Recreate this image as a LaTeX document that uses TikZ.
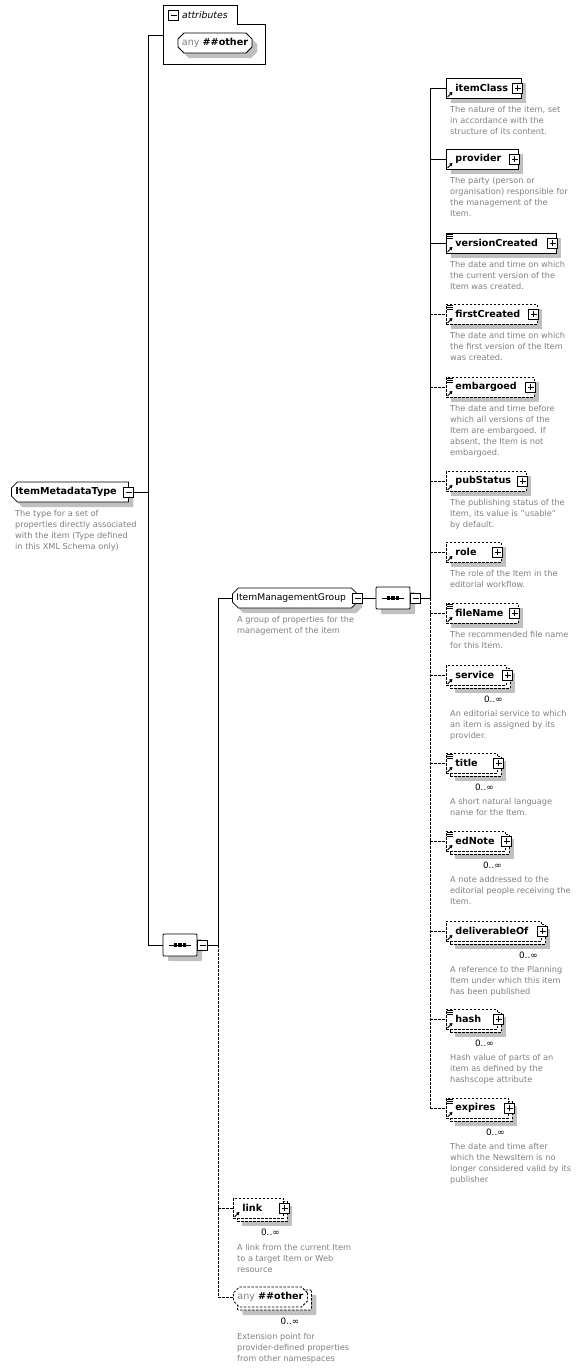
\documentclass[tikz,border=0pt]{standalone}
\usepackage{fontspec}
\setmainfont{DejaVu Sans}
\usetikzlibrary{positioning,calc,shapes.misc,shadows,arrows.meta}

\definecolor{shadowgray}{RGB}{192,192,192}
\definecolor{docgray}{RGB}{128,128,128}
\definecolor{anygray}{RGB}{128,128,128}

\newcommand{\lblfont}{\fontsize{9.6}{12}\selectfont\bfseries}
\newcommand{\grpfont}{\fontsize{9.2}{11}\selectfont}
\newcommand{\docfont}{\fontsize{8.2}{11}\selectfont}
\newcommand{\multfont}{\fontsize{8.8}{10}\selectfont}
\newcommand{\anyfont}{\fontsize{9.6}{12}\selectfont}

% small marks drawn on the boxes
\newcommand{\docicon}[1]{%
  \foreach \k in {1.5,3.5,5.5}
    \draw[line width=0.6pt] ($(#1.north west)+(1,\k)$) -- ++(6,0);}
\newcommand{\refarrow}[1]{%
  \draw[line width=0.9pt, -{Triangle[length=3pt,width=3.5pt]}]
    ($(#1.south west)+(1.5,-1.5)$) -- ++(5,-5);}
\newcommand{\seqmark}[1]{%
  \draw[line width=0.9pt] ([xshift=-11pt]#1.center) -- ([xshift=11pt]#1.center);
  \foreach \d in {-4.5,0,4.5}
    \fill ([xshift=\d pt]#1.center) +(-1.8,-1.8) rectangle +(1.8,1.8);}

\tikzset{
  conn/.style={line width=0.8pt},
  optconn/.style={conn, dash pattern=on 2.5pt off 1.5pt},
  boxshadow/.style={drop shadow={shadow xshift=5pt, shadow yshift=-5pt, fill=shadowgray, opacity=1}},
  elembase/.style={draw, fill=white, line width=0.8pt, anchor=west, minimum height=20pt,
    inner xsep=9pt, inner ysep=0pt, align=left, font=\lblfont},
  elembox/.style={elembase, boxshadow},
  optbase/.style={elembase, dash pattern=on 2.5pt off 1.5pt},
  optbox/.style={optbase, boxshadow},
  minusbox/.style={draw, fill=white, line width=0.8pt, minimum size=10pt, inner sep=0pt,
    path picture={\draw[line width=0.8pt]
      ([xshift=2pt]path picture bounding box.west) -- ([xshift=-2pt]path picture bounding box.east);}},
  plusbox/.style={draw, fill=white, line width=0.8pt, minimum size=10pt, inner sep=0pt,
    path picture={\draw[line width=0.8pt]
      ([xshift=2pt]path picture bounding box.west) -- ([xshift=-2pt]path picture bounding box.east)
      ([yshift=2pt]path picture bounding box.south) -- ([yshift=-2pt]path picture bounding box.north);}},
  chambox/.style={draw, fill=white, line width=0.8pt, chamfered rectangle,
    chamfered rectangle sep=3pt, inner xsep=1pt, inner ysep=0pt, minimum height=20pt,
    anchor=west, align=left},
  seqbox/.style={chambox, chamfered rectangle sep=6pt, minimum width=34pt,
    minimum height=22pt, anchor=center, boxshadow},
  desc/.style={anchor=north west, inner sep=0pt, align=left, font=\docfont, text=docgray},
  mult/.style={inner sep=0pt, font=\multfont},
}

\begin{document}
\begin{tikzpicture}[x=1pt, y=-1pt]
    \useasboundingbox (0,0) rectangle (580,1369);

    % spines
    \coordinate (spA) at (148,0);
    \coordinate (spB) at (218,0);
    \coordinate (spC) at (430,0);

    % ItemMetadataType
    \node[chambox, boxshadow, chamfered rectangle corners={north west,south west},
      font=\lblfont, text width=109pt] (imt) at (11,492) {ItemMetadataType};
    \node[minusbox] (imtMinus) at (imt.east) {};
    \node[desc] (imtDoc) at (15,510) {The type for a set of\\properties directly associated\\with the item (Type defined\\in this XML Schema only)};

    % attributes
    \draw[line width=0.8pt] (163,64) -- (163,5) -- (237,5) -- (237,24) -- (265,24) -- (265,64) -- cycle;
    \node[minusbox] (attrMinus) at (173.5,15.5) {};
    \node[anchor=west, inner sep=0pt, font=\fontsize{9.3}{11}\selectfont\itshape] (attrTitle) at (182,15) {attributes};
    \coordinate (attrIn) at (163,35);
    \node[chambox, boxshadow, minimum width=74pt, anchor=center, font=\anyfont] (anyAttr) at (215,43)
      {\textcolor{anygray}{any} \textbf{\#\#other}};

    % main sequence
    \node[seqbox] (seqMain) at (180,945) {};
    \seqmark{seqMain}
    \node[minusbox, right=0pt of seqMain] (seqMainMinus) {};

    % ItemManagementGroup
    \node[chambox, boxshadow, font=\grpfont, text width=117pt] (img) at (232,598) {ItemManagementGroup};
    \node[minusbox] (imgMinus) at (img.east) {};
    \node[desc] (imgDoc) at (237,616.5) {A group of properties for the\\management of the item};
    \node[seqbox] (seqGrp) at (393,598) {};
    \seqmark{seqGrp}
    \node[minusbox, right=0pt of seqGrp] (seqGrpMinus) {};

    % itemClass
    \node[elembox, text width=57pt] (itemClass) at (446,88) {itemClass};
    \node[plusbox] (itemClassPlus) at ([xshift=-4pt]itemClass.east) {};
    \refarrow{itemClass}
    \node[desc] (itemClassDoc) at (450,106.5) {The nature of the item, set\\in accordance with the\\structure of its content.};

    % provider
    \node[elembox, text width=54pt] (provider) at (446,159) {provider};
    \node[plusbox] (providerPlus) at ([xshift=-4pt]provider.east) {};
    \refarrow{provider}
    \node[desc] (providerDoc) at (450,177.5) {The party (person or\\organisation) responsible for\\the management of the\\Item.};

    % versionCreated
    \node[elembox, text width=92pt] (versionCreated) at (446,243) {versionCreated};
    \node[plusbox] (versionCreatedPlus) at ([xshift=-4pt]versionCreated.east) {};
    \docicon{versionCreated}
    \refarrow{versionCreated}
    \node[desc] (versionCreatedDoc) at (450,261.5) {The date and time on which\\the current version of the\\Item was created.};

    % firstCreated
    \node[optbox, text width=73pt] (firstCreated) at (446,314) {firstCreated};
    \node[plusbox] (firstCreatedPlus) at ([xshift=-4pt]firstCreated.east) {};
    \docicon{firstCreated}
    \refarrow{firstCreated}
    \node[desc] (firstCreatedDoc) at (450,332.5) {The date and time on which\\the first version of the Item\\was created.};

    % embargoed
    \node[optbox, text width=70pt] (embargoed) at (446,387) {embargoed};
    \node[plusbox] (embargoedPlus) at ([xshift=-4pt]embargoed.east) {};
    \docicon{embargoed}
    \refarrow{embargoed}
    \node[desc] (embargoedDoc) at (450,405.5) {The date and time before\\which all versions of the\\Item are embargoed. If\\absent, the Item is not\\embargoed.};

    % pubStatus
    \node[optbox, text width=62pt] (pubStatus) at (446,481) {pubStatus};
    \node[plusbox] (pubStatusPlus) at ([xshift=-4pt]pubStatus.east) {};
    \refarrow{pubStatus}
    \node[desc] (pubStatusDoc) at (450,499.5) {The publishing status of the\\Item, its value is "usable"\\by default.};

    % role
    \node[optbox, text width=37pt] (role) at (446,552) {role};
    \node[plusbox] (rolePlus) at ([xshift=-4pt]role.east) {};
    \refarrow{role}
    \node[desc] (roleDoc) at (450,570.5) {The role of the Item in the\\editorial workflow.};

    % fileName
    \node[optbox, text width=54pt] (fileName) at (446,613) {fileName};
    \node[plusbox] (fileNamePlus) at ([xshift=-4pt]fileName.east) {};
    \docicon{fileName}
    \refarrow{fileName}
    \node[desc] (fileNameDoc) at (450,631.5) {The recommended file name\\for this Item.};

    % service
    \node[optbox, text width=42pt] (serviceBack) at (450,678) {};
    \node[optbase, text width=42pt] (service) at (446,675) {service};
    \node[plusbox] (servicePlus) at ([xshift=1pt]service.east) {};
    \refarrow{service}
    \node[mult] (serviceMult) at ([shift={(-9,24)}]servicePlus.west) {0..∞};
    \node[desc] (serviceDoc) at (450,710.5) {An editorial service to which\\an item is assigned by its\\provider.};

    % title
    \node[optbox, text width=33pt] (titleBack) at (450,766) {};
    \node[optbase, text width=33pt] (title) at (446,763) {title};
    \node[plusbox] (titlePlus) at ([xshift=1pt]title.east) {};
    \docicon{title}
    \refarrow{title}
    \node[mult] (titleMult) at ([shift={(-9,24)}]titlePlus.west) {0..∞};
    \node[desc] (titleDoc) at (450,798.5) {A short natural language\\name for the Item.};

    % edNote
    \node[optbox, text width=41pt] (edNoteBack) at (450,844) {};
    \node[optbase, text width=41pt] (edNote) at (446,841) {edNote};
    \node[plusbox] (edNotePlus) at ([xshift=1pt]edNote.east) {};
    \docicon{edNote}
    \refarrow{edNote}
    \node[mult] (edNoteMult) at ([shift={(-9,24)}]edNotePlus.west) {0..∞};
    \node[desc] (edNoteDoc) at (450,876.5) {A note addressed to the\\editorial people receiving the\\Item.};

    % deliverableOf
    \node[optbox, text width=77pt] (deliverableOfBack) at (450,934) {};
    \node[optbase, text width=77pt] (deliverableOf) at (446,931) {deliverableOf};
    \node[plusbox] (deliverableOfPlus) at ([xshift=1pt]deliverableOf.east) {};
    \refarrow{deliverableOf}
    \node[mult] (deliverableOfMult) at ([shift={(-9,24)}]deliverableOfPlus.west) {0..∞};
    \node[desc] (deliverableOfDoc) at (450,966.5) {A reference to the Planning\\Item under which this item\\has been published};

    % hash
    \node[optbox, text width=33pt] (hashBack) at (450,1022) {};
    \node[optbase, text width=33pt] (hash) at (446,1019) {hash};
    \node[plusbox] (hashPlus) at ([xshift=1pt]hash.east) {};
    \docicon{hash}
    \refarrow{hash}
    \node[mult] (hashMult) at ([shift={(-9,24)}]hashPlus.west) {0..∞};
    \node[desc] (hashDoc) at (450,1054.5) {Hash value of parts of an\\item as defined by the\\hashscope attribute};

    % expires
    \node[optbox, text width=44pt] (expiresBack) at (450,1111) {};
    \node[optbase, text width=44pt] (expires) at (446,1108) {expires};
    \node[plusbox] (expiresPlus) at ([xshift=1pt]expires.east) {};
    \docicon{expires}
    \refarrow{expires}
    \node[mult] (expiresMult) at ([shift={(-9,24)}]expiresPlus.west) {0..∞};
    \node[desc] (expiresDoc) at (450,1143.5) {The date and time after\\which the NewsItem is no\\longer considered valid by its\\publisher};

    % link
    \node[optbox, text width=32pt] (linkBack) at (237,1211) {};
    \node[optbase, text width=32pt] (link) at (233,1208) {link};
    \node[plusbox] (linkPlus) at ([xshift=1pt]link.east) {};
    \refarrow{link}
    \node[mult] (linkMult) at ([shift={(-9,24)}]linkPlus.west) {0..∞};
    \node[desc] (linkDoc) at (237,1244.5) {A link from the current Item\\to a target Item or Web\\resource};

    % any ##other
    \node[chambox, boxshadow, dash pattern=on 2.5pt off 1.5pt, minimum width=74pt] (anyOtherBack) at (237,1300) {};
    \node[chambox, dash pattern=on 2.5pt off 1.5pt, minimum width=74pt, font=\anyfont] (anyOther) at (233,1297)
      {\textcolor{anygray}{any} \textbf{\#\#other}};
    \node[mult] (anyOtherMult) at (290,1321) {0..∞};
    \node[desc] (anyOtherDoc) at (237,1333) {Extension point for\\provider-defined properties\\from other namespaces};

    % connectors, left part
    \draw[conn] (imtMinus.east) -- (imtMinus.east -| spA);
    \draw[conn] (spA |- attrIn) -- (spA |- seqMain.west);
    \draw[conn] (spA |- attrIn) -- (attrIn);
    \draw[conn] (spA |- seqMain.west) -- (seqMain.west);
    \draw[conn] (seqMainMinus.east) -- (seqMainMinus.east -| spB);
    \draw[conn] (spB |- img.west) -- (spB |- seqMain.east);
    \draw[optconn] (spB |- seqMain.east) -- (spB |- anyOther.west);
    \draw[conn] (spB |- img.west) -- (img.west);
    \draw[optconn] (spB |- link.west) -- (link.west);
    \draw[optconn] (spB |- anyOther.west) -- (anyOther.west);

    % connectors, group part
    \draw[conn] (imgMinus.east) -- (seqGrp.west);
    \draw[conn] (seqGrpMinus.east) -- (seqGrpMinus.east -| spC);
    \draw[conn] (spC |- itemClass.west) -- (spC |- seqGrp.east);
    \draw[optconn] (spC |- seqGrp.east) -- (spC |- expires.west);
    \foreach \e in {itemClass,provider,versionCreated}
      \draw[conn] (spC |- \e.west) -- (\e.west);
    \foreach \e in {firstCreated,embargoed,pubStatus,role,fileName,service,title,edNote,deliverableOf,hash,expires}
      \draw[optconn] (spC |- \e.west) -- (\e.west);
\end{tikzpicture}
\end{document}
